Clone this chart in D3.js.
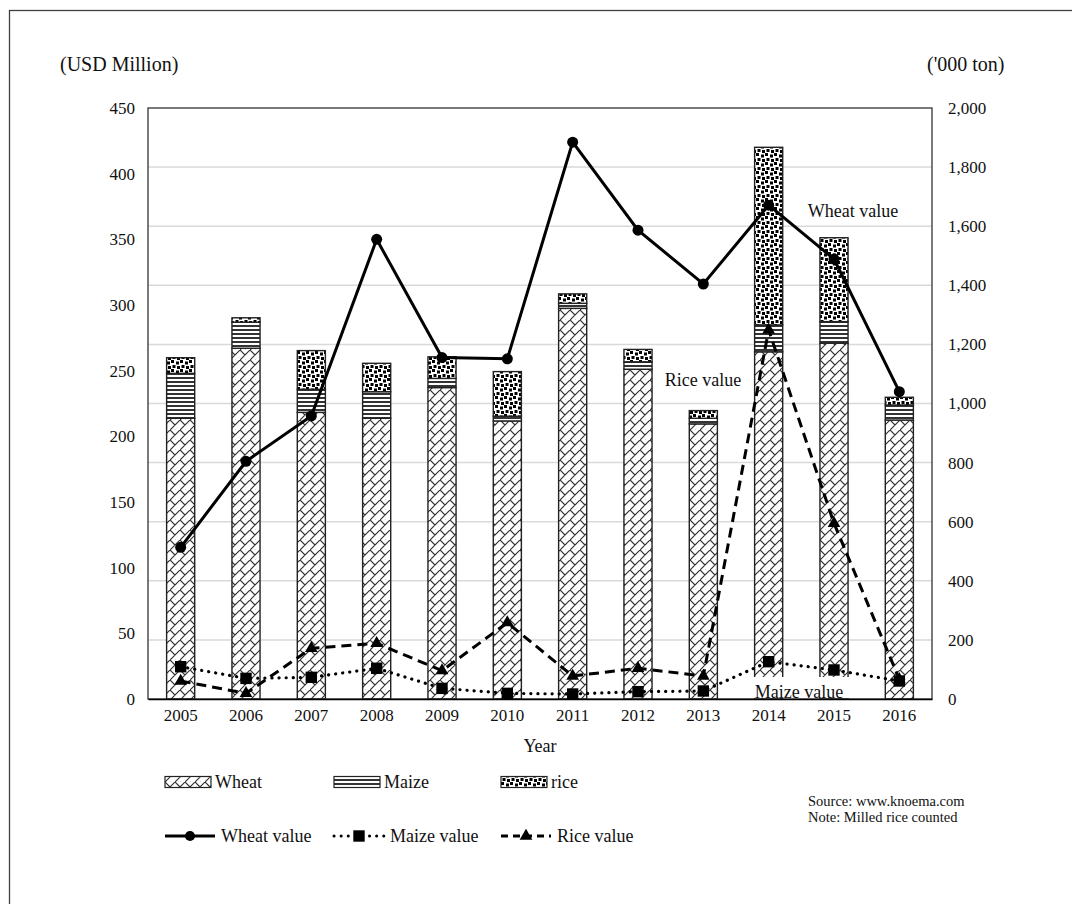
<!DOCTYPE html>
<html>
<head>
<meta charset="utf-8">
<script src="https://cdn.jsdelivr.net/npm/d3@7"></script>
<style>
  body { margin: 0; background: #fff; }
  svg text { font-family: "Liberation Serif", "Times New Roman", serif; fill: #111; }
</style>
</head>
<body>
<div id="chart-area"></div>
<script>
// Data
const years = ["2005", "2006", "2007", "2008", "2009", "2010", "2011", "2012", "2013", "2014", "2015", "2016"]
// quantities, '000 ton (right axis)
const wheatQty = [950, 1187, 970, 950, 1054, 941, 1322, 1116, 931, 1175, 1204, 944]
const maizeQty = [152, 88, 78, 90, 31, 16, 17, 25, 19, 91, 73, 51]
const riceQty = [53, 15, 131, 96, 73, 151, 32, 42, 26, 601, 284, 26]
// values, USD Million (left axis)
const wheatVal = [115.5, 181, 215.5, 350, 260, 259, 424, 357, 316, 376, 335, 234]
const maizeVal = [24.6, 15.7, 16.5, 23.4, 8.1, 4.3, 3.8, 5.6, 6.1, 28.4, 22.1, 13.7]
const riceVal = [13.7, 4.3, 38.6, 42.4, 21.6, 58.1, 17.5, 23.4, 17.5, 281, 133.8, 15]
const leftTicks = [0, 50, 100, 150, 200, 250, 300, 350, 400, 450]
const rightTicks = [0, 200, 400, 600, 800, 1000, 1200, 1400, 1600, 1800, 2000]

// Canvas
const W = 1072, H = 904
const plot = { left: 148, right: 932, top: 108, bottom: 699 }

const svg = d3.select("#chart-area")
	.append("svg")
	.attr("width", W)
	.attr("height", H)

// outer frame (only top and left edges fall inside the picture)
svg.append("rect")
	.attr("x", 9.5).attr("y", 10.5)
	.attr("width", W + 20).attr("height", H + 20)
	.attr("fill", "none")
	.attr("stroke", "#404040")
	.attr("stroke-width", 1.3)

// Patterns
const defs = svg.append("defs")

const pWheat = defs.append("pattern")
	.attr("id", "pat-wheat")
	.attr("patternUnits", "userSpaceOnUse")
	.attr("width", 10).attr("height", 10)
pWheat.append("rect").attr("width", 10).attr("height", 10).attr("fill", "#fff")
pWheat.append("path")
	.attr("d", "M-1,11 L11,-1 M0,0 L5,5 M-5,5 L0,10 M5,10 L10,15 M10,0 L15,5")
	.attr("stroke", "#333").attr("stroke-width", 1.2).attr("fill", "none")

const pMaize = defs.append("pattern")
	.attr("id", "pat-maize")
	.attr("patternUnits", "userSpaceOnUse")
	.attr("width", 8).attr("height", 4)
pMaize.append("rect").attr("width", 8).attr("height", 4).attr("fill", "#fff")
pMaize.append("rect").attr("y", 1).attr("width", 8).attr("height", 2).attr("fill", "#333")

const pRice = defs.append("pattern")
	.attr("id", "pat-rice")
	.attr("patternUnits", "userSpaceOnUse")
	.attr("width", 9).attr("height", 9)
pRice.append("rect").attr("width", 9).attr("height", 9).attr("fill", "#fff")
const riceDots = [[0, 0], [5, 1.5], [1.5, 5], [6, 6]]
pRice.selectAll("rect.dot").data(riceDots).enter().append("rect")
	.attr("class", "dot")
	.attr("x", d => d[0]).attr("y", d => d[1])
	.attr("width", 3).attr("height", 3)
	.attr("fill", "#000")

// Scales
const x = d3.scaleBand()
	.domain(years)
	.range([plot.left, plot.right])
	.paddingInner(0.57)
	.paddingOuter(0.285)
const yL = d3.scaleLinear().domain([0, 450]).range([plot.bottom, plot.top])
const yR = d3.scaleLinear().domain([0, 2000]).range([plot.bottom, plot.top])
const cx = d => x(d) + x.bandwidth() / 2

// Gridlines (right axis)
svg.append("g")
	.selectAll("line")
	.data(rightTicks.filter(t => t > 0 && t < 2000))
	.enter().append("line")
	.attr("x1", plot.left).attr("x2", plot.right)
	.attr("y1", d => yR(d)).attr("y2", d => yR(d))
	.attr("stroke", "#d9d9d9")
	.attr("stroke-width", 1.5)

// Stacked bars
const stackRows = years.map((yr, i) => ({ year: yr, wheat: wheatQty[i], maize: maizeQty[i], rice: riceQty[i] }))
const stack = d3.stack().keys(["wheat", "maize", "rice"])(stackRows)
const fills = { wheat: "url(#pat-wheat)", maize: "url(#pat-maize)", rice: "url(#pat-rice)" }

svg.append("g")
	.selectAll("g")
	.data(stack)
	.enter().append("g")
	.attr("fill", d => fills[d.key])
	.selectAll("rect")
	.data(d => d)
	.enter().append("rect")
	.attr("x", d => x(d.data.year))
	.attr("y", d => yR(d[1]))
	.attr("width", x.bandwidth())
	.attr("height", d => yR(d[0]) - yR(d[1]))
	.attr("stroke", "#222")
	.attr("stroke-width", 1.4)

// Plot frame
svg.append("rect")
	.attr("x", plot.left).attr("y", plot.top)
	.attr("width", plot.right - plot.left)
	.attr("height", plot.bottom - plot.top)
	.attr("fill", "none")
	.attr("stroke", "#333")
	.attr("stroke-width", 1.3)

// Lines
const lineL = d3.line()
	.x((d, i) => cx(years[i]))
	.y(d => yL(d))

svg.append("path")
	.attr("d", lineL(wheatVal))
	.attr("fill", "none").attr("stroke", "#000").attr("stroke-width", 3)
svg.append("path")
	.attr("d", lineL(maizeVal))
	.attr("fill", "none").attr("stroke", "#000").attr("stroke-width", 3.2)
	.attr("stroke-linecap", "round").attr("stroke-dasharray", "0.1 7")
svg.append("path")
	.attr("d", lineL(riceVal))
	.attr("fill", "none").attr("stroke", "#000").attr("stroke-width", 3)
	.attr("stroke-dasharray", "10 6")

const tri = d3.symbol().type(d3.symbolTriangle).size(70)
const sq = d3.symbol().type(d3.symbolSquare).size(130)

svg.append("g").selectAll("circle")
	.data(wheatVal).enter().append("circle")
	.attr("cx", (d, i) => cx(years[i])).attr("cy", d => yL(d))
	.attr("r", 5.5).attr("fill", "#000")
svg.append("g").selectAll("path")
	.data(maizeVal).enter().append("path")
	.attr("d", sq)
	.attr("transform", (d, i) => `translate(${cx(years[i])}, ${yL(d)})`)
	.attr("fill", "#000")
svg.append("g").selectAll("path")
	.data(riceVal).enter().append("path")
	.attr("d", tri)
	.attr("transform", (d, i) => `translate(${cx(years[i])}, ${yL(d)})`)
	.attr("fill", "#000")

// Axes
const xAxis = svg.append("g")
	.attr("transform", `translate(0, ${plot.bottom})`)
	.call(d3.axisBottom(x).tickSize(0).tickPadding(10))
xAxis.select(".domain").attr("stroke", "#000").attr("stroke-width", 1.3)
xAxis.selectAll("text").attr("font-size", "17px")

const yAxisL = svg.append("g")
	.attr("transform", `translate(${plot.left}, 0)`)
	.call(d3.axisLeft(yL).tickValues(leftTicks).tickSize(0).tickPadding(13))
yAxisL.select(".domain").remove()
yAxisL.selectAll("text").attr("font-size", "17px")

const yAxisR = svg.append("g")
	.attr("transform", `translate(${plot.right}, 0)`)
	.call(d3.axisRight(yR).tickValues(rightTicks).tickSize(0).tickPadding(16).tickFormat(d3.format(",")))
yAxisR.select(".domain").remove()
yAxisR.selectAll("text").attr("font-size", "17px")

// Axis titles
svg.append("text").attr("x", 60).attr("y", 71)
	.attr("font-size", "20px").text("(USD Million)")
svg.append("text").attr("x", 927).attr("y", 71)
	.attr("font-size", "20px").text("('000 ton)")
svg.append("text").attr("x", 540).attr("y", 752)
	.attr("text-anchor", "middle").attr("font-size", "18px").text("Year")

// Line annotations
svg.append("text").attr("x", 853).attr("y", 217)
	.attr("text-anchor", "middle").attr("font-size", "18px").text("Wheat value")
svg.append("text").attr("x", 703).attr("y", 386)
	.attr("text-anchor", "middle").attr("font-size", "18px").text("Rice value")
svg.append("rect").attr("x", 746).attr("y", 677).attr("width", 107).attr("height", 21).attr("fill", "#fff")
svg.append("text").attr("x", 799).attr("y", 698)
	.attr("text-anchor", "middle").attr("font-size", "18px").text("Maize value")

// Legend
const legBars = [
	{ label: "Wheat", fill: "url(#pat-wheat)", x: 165 },
	{ label: "Maize", fill: "url(#pat-maize)", x: 334 },
	{ label: "rice", fill: "url(#pat-rice)", x: 501 }
]
const lb = svg.append("g").selectAll("g").data(legBars).enter().append("g")
	.attr("transform", d => `translate(${d.x}, 782)`)
lb.append("rect").attr("x", 0).attr("y", -5.5).attr("width", 46).attr("height", 11)
	.attr("fill", d => d.fill).attr("stroke", "#222").attr("stroke-width", 1.2)
lb.append("text").attr("x", 50).attr("y", 6).attr("font-size", "18px").text(d => d.label)

const legLines = [
	{ label: "Wheat value", dash: null, cap: "butt", mark: "circle", x: 165 },
	{ label: "Maize value", dash: "0.1 7", cap: "round", mark: "square", x: 334 },
	{ label: "Rice value", dash: "7 5", cap: "butt", mark: "triangle", x: 501 }
]
const ll = svg.append("g").selectAll("g").data(legLines).enter().append("g")
	.attr("transform", d => `translate(${d.x}, 836)`)
ll.append("line").attr("x1", 0).attr("x2", 50)
	.attr("stroke", "#000").attr("stroke-width", 3)
	.attr("stroke-dasharray", d => d.dash)
	.attr("stroke-linecap", d => d.cap)
ll.append("path")
	.attr("transform", "translate(25, 0)")
	.attr("d", d => d.mark === "circle" ? d3.symbol().type(d3.symbolCircle).size(80)()
		: d.mark === "square" ? sq() : tri())
	.attr("fill", "#000")
ll.append("text").attr("x", 56).attr("y", 6).attr("font-size", "18px").text(d => d.label)

// Source note
svg.append("text").attr("x", 808).attr("y", 806).attr("font-size", "14.5px").text("Source: www.knoema.com")
svg.append("text").attr("x", 808).attr("y", 822).attr("font-size", "14.5px").text("Note: Milled  rice counted")
</script>
</body>
</html>
